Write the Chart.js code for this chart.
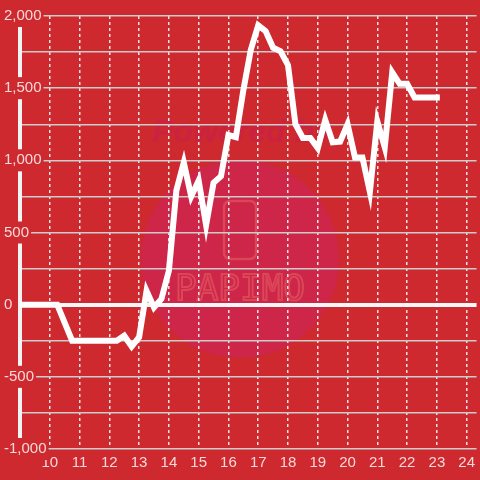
<!DOCTYPE html>
<html>
<head>
<meta charset="utf-8">
<script src="https://cdn.jsdelivr.net/npm/chart.js@4"></script>
<style>
  body { margin: 0; background: #cd292e; }
  canvas { display: block; }
</style>
</head>
<body>
<canvas id="balanceChart" width="480" height="480"></canvas>
<script>
// hours of the day and the running balance at each one
const hours = [9, 10.25, 10.75, 12.25, 12.5, 12.75, 13, 13.25, 13.5, 13.75,
  14, 14.25, 14.5, 14.75, 15, 15.25, 15.5, 15.75, 16, 16.25,
  16.5, 16.75, 17, 17.25, 17.5, 17.75, 18, 18.25, 18.5, 18.75,
  19, 19.25, 19.5, 19.75, 20, 20.25, 20.5, 20.75, 21, 21.25,
  21.5, 21.75, 22, 22.25, 23.1];
const balance = [0, 0, -250, -250, -215, -290, -225, 95, -20, 40,
  235, 790, 985, 750, 860, 550, 845, 890, 1175, 1160,
  1485, 1765, 1935, 1895, 1780, 1755, 1660, 1250, 1155, 1155,
  1085, 1280, 1125, 1130, 1250, 1020, 1020, 780, 1270, 1090,
  1610, 1530, 1530, 1435, 1435];
const xTicks = [10, 11, 12, 13, 14, 15, 16, 17, 18, 19, 20, 21, 22, 23, 24];
const yTicks = [-1000, -750, -500, -250, 0, 250, 500, 750, 1000, 1250, 1500, 1750, 2000];

const bgColor = "#cd292e";
const labelColor = "#f6d9da";

// red background + faint "powered by" watermark
const backdrop = {
  id: "backdrop",
  beforeDraw(chart) {
    const ctx = chart.ctx;
    ctx.save();
    ctx.fillStyle = bgColor;
    ctx.fillRect(0, 0, chart.width, chart.height);

    ctx.fillStyle = "#cd2648";
    ctx.beginPath();
    ctx.arc(240, 259, 99, 0, Math.PI * 2);
    ctx.fill();

    ctx.fillStyle = "rgba(200, 30, 80, 0.55)";
    ctx.font = "italic bold 32px 'Liberation Sans'";
    ctx.textAlign = "center";
    ctx.textBaseline = "middle";
    ctx.fillText("Powered by", 242, 133);

    ctx.strokeStyle = "rgba(240, 110, 110, 0.45)";
    ctx.lineWidth = 2.5;
    ctx.beginPath();
    ctx.roundRect(224, 201, 32, 58, 6);
    ctx.stroke();

    ctx.font = "36px 'DejaVu Sans Mono'";
    ctx.lineWidth = 2;
    ctx.strokeText("PAPIMO", 240, 291);
    ctx.restore();
  }
};

new Chart("balanceChart", {
  type: "line",
  data: {
    datasets: [{
      data: hours.map((h, i) => ({x: h, y: balance[i]})),
      borderColor: "#ffffff",
      borderWidth: 6,
      pointRadius: 0,
      tension: 0,
      fill: false
    }]
  },
  options: {
    responsive: false,
    animation: false,
    layout: {padding: {left: 3, top: 16, right: 0, bottom: 3}},
    plugins: {legend: {display: false}, tooltip: {enabled: false}},
    scales: {
      x: {
        type: "linear",
        min: 9,
        max: 24.333,
        afterBuildTicks: (scale) => { scale.ticks = xTicks.map(v => ({value: v})); },
        grid: {color: "#e6e6e6", lineWidth: 1.5, drawTicks: false},
        border: {display: false, dash: [3, 3]},
        ticks: {
          color: labelColor,
          font: {family: "'Liberation Sans'", size: 15},
          padding: 5,
          autoSkip: false,
          maxRotation: 0
        }
      },
      y: {
        min: -1000,
        max: 2000,
        afterBuildTicks: (scale) => { scale.ticks = yTicks.map(v => ({value: v})); },
        afterFit: (scale) => { scale.width = 17; },
        grid: {
          color: (c) => c.tick && c.tick.value === 0 ? "#f7f7f7" : "#cccccc",
          lineWidth: (c) => c.tick && c.tick.value === 0 ? 4 : 1.5,
          drawTicks: false
        },
        border: {display: true, color: "#f4f4f4", width: 4},
        ticks: {
          color: labelColor,
          font: {family: "'Liberation Sans'", size: 15},
          mirror: true,
          crossAlign: "near",
          padding: -16,
          autoSkip: false,
          showLabelBackdrop: true,
          backdropColor: bgColor,
          backdropPadding: 2,
          callback: (v) => v % 500 === 0 ? v.toLocaleString("en-US") : ""
        }
      }
    }
  },
  plugins: [backdrop]
});
</script>
</body>
</html>
